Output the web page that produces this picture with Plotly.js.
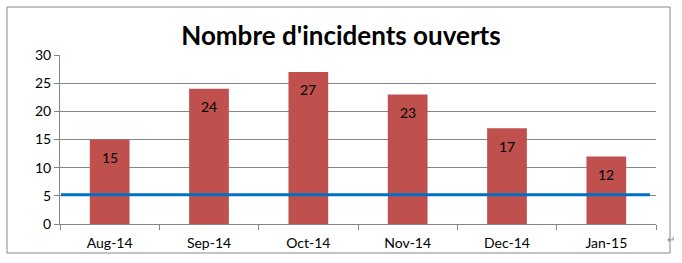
<!DOCTYPE html>
<html><head><meta charset="utf-8">
<script src="https://cdn.plot.ly/plotly-3.0.1.min.js"></script>
<style>html,body{margin:0;padding:0;background:#fff}#c{width:682px;height:263px}</style>
</head><body><div id="c"></div>
<script>
const categories = ["Aug-14","Sep-14","Oct-14","Nov-14","Dec-14","Jan-15"];
const incidents = [15,24,27,23,17,12];
const threshold = 5.2;
const yTicks = [0,5,10,15,20,25,30];

const FONT = "Lato, 'Open Sans', sans-serif";
const L = 60, R = 26, T = 55, B = 39, W = 682, H = 263;
const pw = W - L - R, ph = H - T - B;
const px = v => (v - L) / pw;
const py = v => (H - B - v) / ph;

const bars = {
  type: "bar", x: categories, y: incidents,
  marker: {color: "#C0504D"}, hoverinfo: "none"
};

const annotations = categories.map((c, i) => ({
  x: c, y: incidents[i], xref: "x", yref: "y",
  text: String(incidents[i]), showarrow: false, yshift: -18,
  font: {family: FONT, size: 14, color: "#000"}
}));
annotations.push({
  xref: "paper", yref: "paper", x: px(677), y: py(247),
  text: "↵", showarrow: false, font: {family: FONT, size: 10, color: "#888"}
});

const layout = {
  width: W, height: H,
  margin: {l: L, r: R, t: T, b: B},
  paper_bgcolor: "#fff", plot_bgcolor: "#fff",
  showlegend: false, bargap: 0.6,
  title: {text: "<b>Nombre d'incidents ouverts</b>", x: 0.5, xanchor: "center",
          y: 1 - 36 / H, yanchor: "middle",
          font: {family: FONT, size: 26, color: "#000"}},
  xaxis: {
    type: "category", tickson: "boundaries", ticks: "outside", ticklen: 5,
    tickcolor: "#868686", showline: true, linecolor: "#868686", linewidth: 1,
    showgrid: false, tickfont: {family: FONT, size: 14, color: "#000"},
    ticklabelstandoff: 6,
    range: [-0.5, 5.5], fixedrange: true
  },
  yaxis: {
    range: [0, 30], tickvals: yTicks, ticks: "outside", ticklen: 5,
    tickcolor: "#868686", showline: true, linecolor: "#868686",
    gridcolor: "#868686", gridwidth: 1, zeroline: false,
    tickfont: {family: FONT, size: 14, color: "#000"}, fixedrange: true
  },
  shapes: [
    {type: "line", xref: "x", yref: "y", x0: -0.49, x1: 5.44, y0: threshold, y1: threshold,
     line: {color: "#0070C0", width: 3}},
    {type: "rect", xref: "paper", yref: "paper", x0: px(7), x1: px(670), y0: py(253), y1: py(7),
     line: {color: "#888", width: 1}, layer: "below"}
  ],
  annotations: annotations
};

Plotly.newPlot("c", [bars], layout, {staticPlot: true, displayModeBar: false});
</script></body></html>
